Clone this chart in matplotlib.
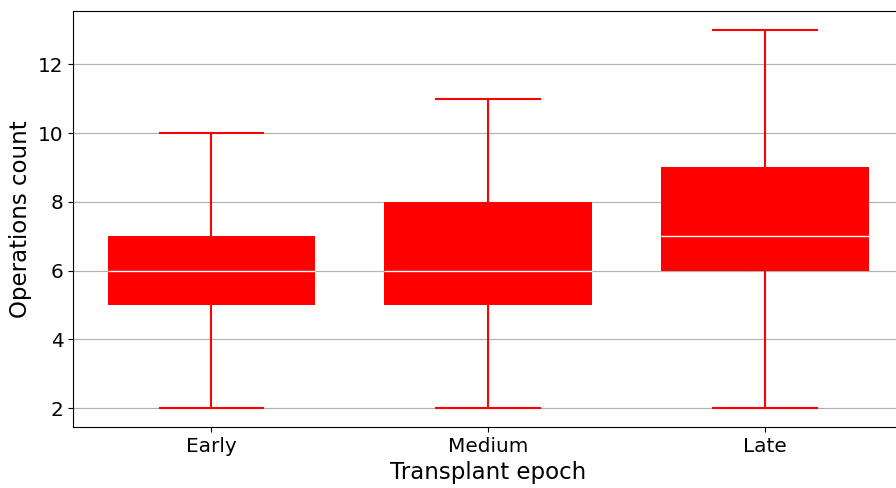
import matplotlib
matplotlib.use("Agg")
import matplotlib.pyplot as plt

categories = ["Early", "Medium", "Late"]
whisker_low = [2, 2, 2]
q1 = [5, 5, 6]
median = [6, 6, 7]
q3 = [7, 8, 9]
whisker_high = [10, 11, 13]

stats = []
for i, c in enumerate(categories):
    stats.append(dict(label=c, whislo=whisker_low[i], q1=q1[i], med=median[i],
                      q3=q3[i], whishi=whisker_high[i], fliers=[]))

fig = plt.figure(figsize=(8.96, 4.88), dpi=100)
ax = fig.add_axes([73/896, 61/488, (903.5-73)/896, (427-11)/488])

ax.bxp(stats, positions=range(len(categories)), widths=0.75, patch_artist=True,
       showfliers=False,
       boxprops=dict(facecolor="red", edgecolor="red", linewidth=0),
       medianprops=dict(color="white", linewidth=1),
       whiskerprops=dict(color="red", linewidth=1.5),
       capprops=dict(color="red", linewidth=1.5))

ax.set_xlim(-0.5, 2.5)
ax.set_ylim(1.45, 13.55)
ax.set_yticks([2, 4, 6, 8, 10, 12])
ax.yaxis.grid(True, color="#b0b0b0", linewidth=0.8)
ax.set_axisbelow(True)
ax.tick_params(labelsize=14.4)
ax.set_xlabel("Transplant epoch", fontsize=16.5)
ax.set_ylabel("Operations count", fontsize=16.5)

fig.savefig("out.png", dpi=100)
